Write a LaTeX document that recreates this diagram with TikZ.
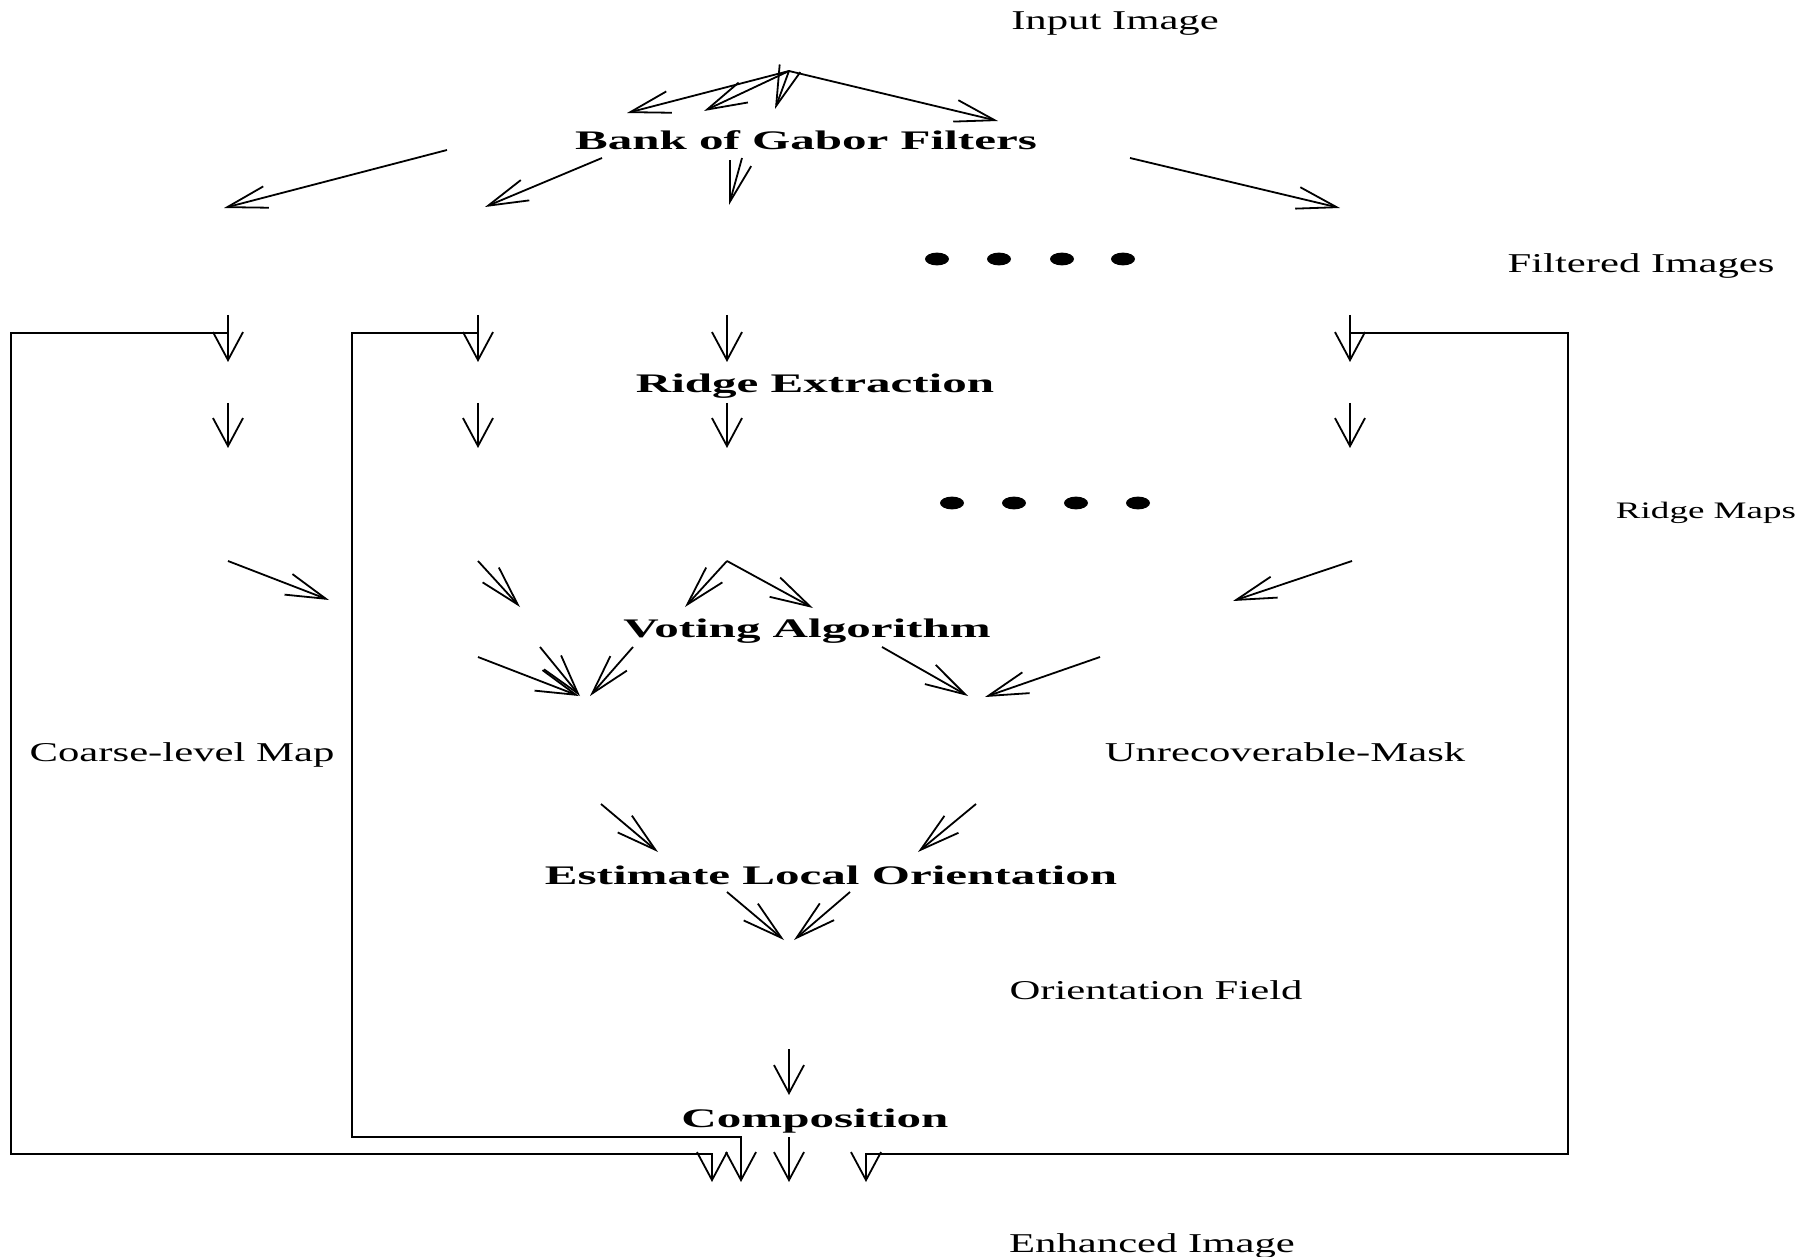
\documentclass[tikz,border=0pt]{standalone}
\usepackage{fontspec}
\setmainfont{Liberation Serif}
\usetikzlibrary{arrows.meta}

\newcommand{\stagetext}[1]{\scalebox{1.83}[1]{\fontsize{13.4}{15}\selectfont\bfseries #1}}
\newcommand{\datatext}[1]{\scalebox{1.57}[1]{\fontsize{13.6}{15}\selectfont #1}}

\tikzset{
  flow/.style={line width=0.9pt},
  darr/.style={flow, -{Straight Barb[length=20pt, width=11pt]}},
  varr/.style={flow, -{Straight Barb[length=14pt, width=15pt]}},
  stage/.style={anchor=base, inner sep=0pt},
  data/.style={anchor=base, inner sep=0pt}
}

\begin{document}
\begin{tikzpicture}[x=0.5pt,y=-0.5pt]
\useasboundingbox (0,0) rectangle (1801,1257);

\node[data] (input) at (1115,30) {\datatext{Input Image}};
\node[data] (filtered) at (1641,273) {\datatext{Filtered Images}};
\node[data] (ridgemaps) at (1706,518) {\scalebox{1.57}[1]{\fontsize{11.8}{14}\selectfont Ridge Maps}};
\node[data] (coarse) at (182,761) {\datatext{Coarse-level Map}};
\node[data] (mask) at (1285,761) {\datatext{Unrecoverable-Mask}};
\node[data] (field) at (1156,999) {\datatext{Orientation Field}};
\node[data] (enhanced) at (1152,1252) {\datatext{Enhanced Image}};

\node[stage] (bank) at (806,150) {\stagetext{Bank of Gabor Filters}};
\node[stage] (ridge) at (815,393) {\stagetext{Ridge Extraction}};
\node[stage] (voting) at (807,637) {\stagetext{Voting Algorithm}};
\node[stage] (estimate) at (831,884) {\stagetext{Estimate Local Orientation}};
\node[stage] (compo) at (815,1127) {\stagetext{Composition}};

% input image to the filters
\coordinate (src) at (789,71);
\foreach \x/\y [count=\i] in {627/113, 704/111, 775/109, 998/121}{
  \coordinate (flt\i) at (\x,\y);
  \draw[darr] (src) -- (flt\i);
}

% diagonal connectors
\foreach \xa/\ya/\xb/\yb [count=\i] in {
    447/150/224/208, 602/158/485/207, 742/158/729/205, 1130/158/1340/208,
    228/561/329/600, 478/561/520/607, 727/561/685/607, 727/561/813/608,
    1352/561/1233/601,
    478/657/579/696, 540/647/580/696, 633/647/590/696, 882/647/968/696,
    1100/657/985/697,
    601/804/658/852, 976/804/918/852,
    727/892/784/940, 850/892/794/940}{
  \coordinate (from\i) at (\xa,\ya);
  \coordinate (to\i) at (\xb,\yb);
  \draw[darr] (from\i) -- (to\i);
}

% filtered images and ridge maps
\foreach \x [count=\i] in {228,478,727,1350}{
  \coordinate (fa\i) at (\x,315);
  \coordinate (fb\i) at (\x,362);
  \coordinate (ra\i) at (\x,403);
  \coordinate (rb\i) at (\x,448);
  \draw[varr] (fa\i) -- (fb\i);
  \draw[varr] (ra\i) -- (rb\i);
}
\foreach \x in {937,999,1062,1123}
  \fill (\x,259) ellipse [x radius=6pt, y radius=3.2pt];
\foreach \x in {952,1014,1076,1138}
  \fill (\x,503) ellipse [x radius=6pt, y radius=3.2pt];

% orientation field to composition
\coordinate (oa) at (789,1049);
\coordinate (ob) at (789,1095);
\draw[varr] (oa) -- (ob);
\coordinate (ca) at (789,1137);
\coordinate (cb) at (789,1182);
\draw[varr] (ca) -- (cb);

% bypass lines
\coordinate (outer) at (228,333);
\coordinate (inner) at (478,333);
\coordinate (right) at (1350,333);
\coordinate (out1) at (712,1182);
\coordinate (out2) at (741,1182);
\coordinate (out3) at (866,1182);
\draw[varr] (outer) -- (11,333) -- (11,1154) -- (712,1154) -- (out1);
\draw[varr] (inner) -- (352,333) -- (352,1137) -- (741,1137) -- (out2);
\draw[varr] (right) -- (1568,333) -- (1568,1154) -- (866,1154) -- (out3);
\end{tikzpicture}
\end{document}
